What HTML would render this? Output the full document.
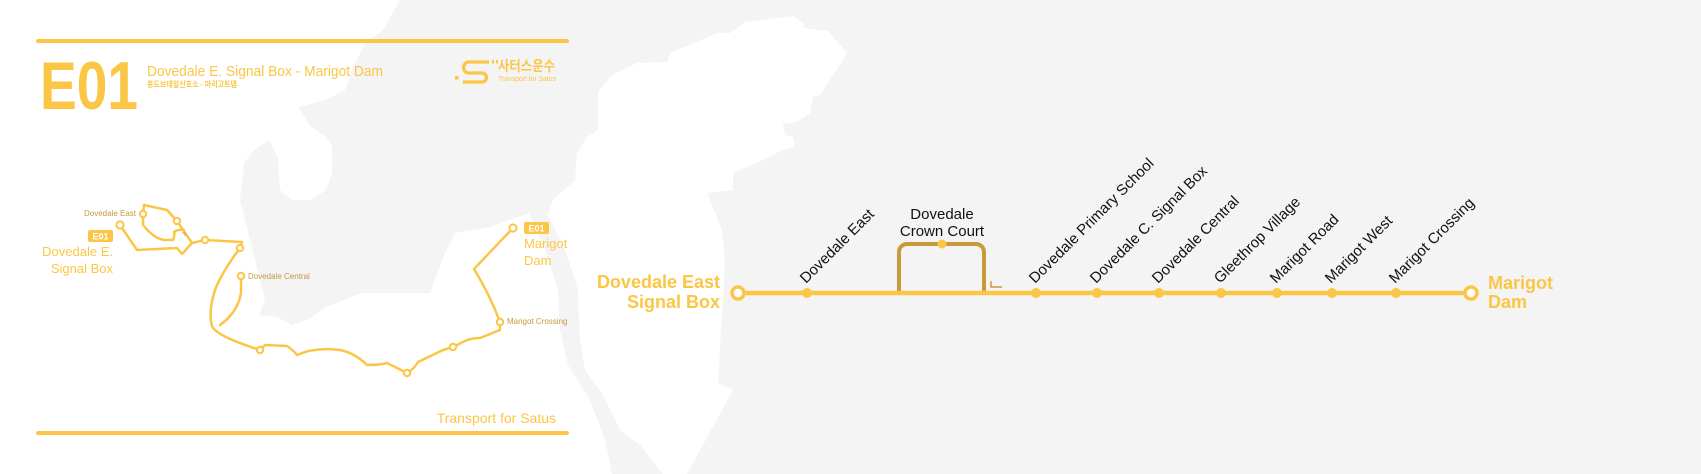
<!DOCTYPE html>
<html><head><meta charset="utf-8"><style>
html,body{margin:0;padding:0;background:#fff;}
svg{display:block;}
text{font-family:"Liberation Sans","Noto Sans CJK KR",sans-serif;}
</style></head><body>
<svg width="1701" height="474" viewBox="0 0 1701 474" xmlns="http://www.w3.org/2000/svg">
<rect width="1701" height="474" fill="#f4f4f4"/>
<!-- left white region -->
<polygon fill="#fff" points="0,0 400,0 383,30 365,43 352,70 345,90 326,100 298,107 311,127 326,137 332,147 332,173 326,190 311,200 292,200 280,190 278,157 269,140 254,150 244,163 240,200 265,300 259,315 277,317 292,325 307,320 326,307 361,293 430,293 445,253 455,233 491,227 529,213 545,250 558,290 560,330 568,365 590,400 605,440 612,474 0,474"/>
<!-- white island -->
<polygon fill="#fff" points="793,16 805,25 803,28 828,31 847,53 843,60 820,95 813,97 810,113 797,122 783,124 785,135 793,137 795,147 783,150 763,160 747,167 733,173 733,190 707,193 722,230 725,263 722,313 718,383 733,390 687,474 663,474 640,445 620,430 603,395 585,370 580,340 578,290 565,250 548,215 553,200 575,180 577,153 587,137 598,130 598,92 612,75 637,63 667,62 670,53 718,33 730,33 745,22"/>

<!-- left panel -->
<g stroke="#fbc646" stroke-width="4" stroke-linecap="round">
<line x1="38" y1="41" x2="567" y2="41"/>
<line x1="38" y1="433" x2="567" y2="433"/>
</g>
<text x="40" y="109" font-size="68" font-weight="bold" fill="#fbc646" textLength="98" lengthAdjust="spacingAndGlyphs">E01</text>
<text x="147" y="76" font-size="15" fill="#fbc646" textLength="236" lengthAdjust="spacingAndGlyphs">Dovedale E. Signal Box - Marigot Dam</text>
<text x="147" y="87" font-size="8" font-weight="bold" fill="#fbc646" textLength="90" lengthAdjust="spacingAndGlyphs">동도브데일신호소 - 마리고트댐</text>
<!-- logo -->
<rect x="455" y="76" width="3.5" height="3.5" fill="#fbc646"/>
<path d="M489,62 H469 a5.5,5.5 0 0 0 0,11 H482 a4.5,4.5 0 0 1 0,9 H463" fill="none" stroke="#fbc646" stroke-width="3.2"/>
<rect x="492" y="60" width="2" height="3.5" fill="#fbc646"/><rect x="496" y="60" width="2" height="3.5" fill="#fbc646"/>
<text x="498" y="71" font-size="14" font-weight="bold" fill="#fbc646" textLength="57" lengthAdjust="spacingAndGlyphs">사터스운수</text>
<text x="498" y="81" font-size="7" fill="#fbc646" textLength="58" lengthAdjust="spacingAndGlyphs">Transport for Satus</text>
<text x="556" y="423" font-size="14" fill="#fbc646" text-anchor="end">Transport for Satus</text>

<!-- mini map route -->
<g fill="none" stroke="#fbc646" stroke-width="2.5" stroke-linejoin="round" stroke-linecap="round">
<path d="M120,225 L137,250 L177,248 L182,254 L192,243 L205,240 L242,242 L240,248"/>
<path d="M240,248 Q222,272 215,290 Q208,312 212,326 Q216,336 260,350"/>
<path d="M241,276 L241,293 Q238,312 220,325"/>
<path d="M143,214 L144,205 L167,210 L177,221 L192,243"/>
<path d="M143,214 L143,225 Q155,240 166,240 L173,240 Q175,235 174,232 Q178,229 184,230"/>
<path d="M260,350 L265,345 L287,346 Q293,350 297,355 Q315,347 340,350 Q355,353 367,365 Q380,365 387,363 L407,373 Q415,368 418,362 L443,350 L453,347 L463,342 Q470,338 480,338 L500,330 L500,322"/>
<path d="M500,322 Q490,295 474,269 L513,228"/>
</g>
<path d="M182,233 l3,0 l0,3" fill="none" stroke="#999" stroke-width="0.8"/>
<g fill="#fff" stroke="#fbc646" stroke-width="2">
<circle cx="120" cy="225" r="3.6"/><circle cx="143" cy="214" r="3.2"/><circle cx="177" cy="221" r="3.2"/>
<circle cx="205" cy="240" r="3.2"/><circle cx="240" cy="248" r="3.2"/><circle cx="241" cy="276" r="3.2"/>
<circle cx="260" cy="350" r="3.2"/><circle cx="407" cy="373" r="3.2"/><circle cx="453" cy="347" r="3.2"/>
<circle cx="500" cy="322" r="3.2"/><circle cx="513" cy="228" r="3.6"/>
</g>
<g font-size="8" fill="#c49a3e">
<text x="136" y="216" text-anchor="end">Dovedale East</text>
<text x="248" y="279">Dovedale Central</text>
<text x="507" y="324">Marigot Crossing</text>
</g>
<rect x="88" y="230" width="25" height="12" rx="2" fill="#fbc646"/>
<text x="100.5" y="239.5" font-size="9" font-weight="bold" fill="#fff" text-anchor="middle">E01</text>
<text x="113" y="256" font-size="13" fill="#fbc646" text-anchor="end">Dovedale E.</text>
<text x="113" y="273" font-size="13" fill="#fbc646" text-anchor="end">Signal Box</text>
<rect x="524" y="222" width="25" height="12" rx="2" fill="#fbc646"/>
<text x="536.5" y="231.5" font-size="9" font-weight="bold" fill="#fff" text-anchor="middle">E01</text>
<text x="524" y="248" font-size="13" fill="#fbc646">Marigot</text>
<text x="524" y="265" font-size="13" fill="#fbc646">Dam</text>

<!-- main line -->
<path d="M899,293 V252 a8,8 0 0 1 8,-8 H976 a8,8 0 0 1 8,8 V293" fill="none" stroke="#c99a3a" stroke-width="4"/>
<circle cx="942" cy="244" r="4.5" fill="#fbc646"/>
<path d="M991,281 V287 H1002" fill="none" stroke="#c99a3a" stroke-width="1.5"/>
<line x1="738" y1="293" x2="1471" y2="293" stroke="#fbc646" stroke-width="4.5"/>
<g fill="#fbc646">
<circle cx="807" cy="293" r="5"/><circle cx="1036" cy="293" r="5"/><circle cx="1097" cy="293" r="5"/>
<circle cx="1159" cy="293" r="5"/><circle cx="1221" cy="293" r="5"/><circle cx="1277" cy="293" r="5"/>
<circle cx="1332" cy="293" r="5"/><circle cx="1396" cy="293" r="5"/>
</g>
<circle cx="738" cy="293" r="6" fill="#fff" stroke="#fbc646" stroke-width="3.5"/>
<circle cx="1471" cy="293" r="6" fill="#fff" stroke="#fbc646" stroke-width="3.5"/>
<text x="720" y="288" font-size="18" font-weight="bold" fill="#fbc646" text-anchor="end">Dovedale East</text>
<text x="720" y="308" font-size="18" font-weight="bold" fill="#fbc646" text-anchor="end">Signal Box</text>
<text x="1488" y="289" font-size="18" font-weight="bold" fill="#fbc646">Marigot</text>
<text x="1488" y="308" font-size="18" font-weight="bold" fill="#fbc646">Dam</text>
<text x="942" y="219" font-size="15" fill="#111" text-anchor="middle">Dovedale</text>
<text x="942" y="236" font-size="15" fill="#111" text-anchor="middle">Crown Court</text>
<g font-size="15" fill="#111">
<text transform="translate(806,284) rotate(-45)">Dovedale East</text>
<text transform="translate(1035,284) rotate(-45)">Dovedale Primary School</text>
<text transform="translate(1096,284) rotate(-45)">Dovedale C. Signal Box</text>
<text transform="translate(1158,284) rotate(-45)">Dovedale Central</text>
<text transform="translate(1220,284) rotate(-45)">Gleethrop Village</text>
<text transform="translate(1276,284) rotate(-45)">Marigot Road</text>
<text transform="translate(1331,284) rotate(-45)">Marigot West</text>
<text transform="translate(1395,284) rotate(-45)">Marigot Crossing</text>
</g>
</svg>
</body></html>
